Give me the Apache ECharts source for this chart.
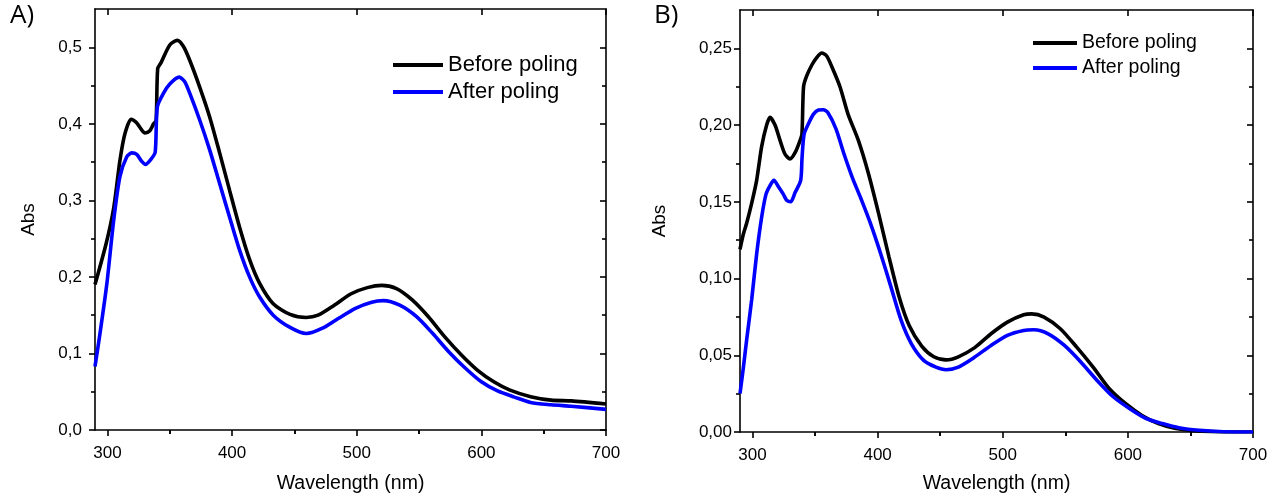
<!DOCTYPE html>
<html><head><meta charset="utf-8">
<script src="https://cdn.jsdelivr.net/npm/echarts@6/dist/echarts.min.js"></script>
<style>html,body{margin:0;padding:0;background:#fff}#c{width:1276px;height:499px}</style>
</head><body><div id="c"></div>
<script>
// ---- tick values ----
const xTicksMajor = [300, 400, 500, 600, 700];
const xTicksMinor = [350, 450, 550, 650];
const yTicksMajorA = [0, 0.1, 0.2, 0.3, 0.4, 0.5];
const yTicksMinorA = [0.05, 0.15, 0.25, 0.35, 0.45];
const yTicksMajorB = [0, 0.05, 0.1, 0.15, 0.2, 0.25];
const yTicksMinorB = [0.025, 0.075, 0.125, 0.175, 0.225];
const seriesNames = ['Before poling', 'After poling'];
const axisTitleX = 'Wavelength (nm)';
const axisTitleY = 'Abs';
const panelLabels = ['A)', 'B)'];

// ---- Panel A data ----
const wlA_before = [290, 299, 305, 310, 314, 319, 323, 327, 330, 334, 337, 339, 340.3, 343, 350, 356, 361, 366, 374, 382, 390, 398, 406, 414, 422, 433, 446.5, 459.5, 469, 482, 495.5, 508.5, 520, 531.5, 544.5, 557.5, 570.5, 584, 597, 610, 623, 639.5, 656, 672, 700];
const absA_before = [0.19, 0.244, 0.29, 0.352, 0.387, 0.406, 0.402, 0.393, 0.388, 0.391, 0.40, 0.404, 0.472, 0.48, 0.503, 0.509, 0.501, 0.483, 0.448, 0.409, 0.362, 0.313, 0.265, 0.223, 0.192, 0.165, 0.151, 0.147, 0.150, 0.163, 0.178, 0.186, 0.189, 0.185, 0.170, 0.148, 0.122, 0.098, 0.078, 0.063, 0.052, 0.0435, 0.039, 0.038, 0.034];
const wlA_after = [290, 294, 299.5, 305, 310, 315.5, 319.5, 323.5, 327.5, 330.5, 335, 338.3, 340, 345, 350, 357.5, 362, 366, 374, 382, 390, 398, 406, 414, 422, 433, 446.5, 459.5, 472.5, 485.5, 499, 512, 521.5, 534.5, 548, 561, 574, 587, 600, 613, 626.5, 639.5, 656, 672, 700];
const absA_after = [0.083, 0.126, 0.191, 0.274, 0.331, 0.357, 0.362, 0.36, 0.351, 0.347, 0.354, 0.363, 0.422, 0.44, 0.452, 0.461, 0.455, 0.44, 0.405, 0.366, 0.322, 0.278, 0.235, 0.2, 0.174, 0.150, 0.134, 0.126, 0.133, 0.146, 0.159, 0.167, 0.169, 0.163, 0.148, 0.126, 0.102, 0.081, 0.063, 0.051, 0.043, 0.036, 0.033, 0.031, 0.027];

// ---- Panel B data ----
const wlB_before = [290, 292.7, 295.3, 299.3, 303.3, 307.3, 311.3, 314, 318, 322, 326, 330, 334, 338, 339.5, 340.8, 343.3, 347.3, 351.3, 355.3, 359.3, 363.4, 369.9, 376.4, 384.6, 392.8, 400.9, 409.1, 417.2, 425.4, 435.2, 444.9, 454.7, 464.5, 477.6, 490.6, 503.7, 516.7, 523.2, 533, 546, 559.1, 572.2, 585.2, 598.3, 611.3, 624.4, 637.4, 650.5, 670, 700];
const absB_before = [0.119, 0.129, 0.136, 0.149, 0.164, 0.186, 0.200, 0.205, 0.200, 0.190, 0.181, 0.178, 0.182, 0.190, 0.194, 0.225, 0.232, 0.239, 0.244, 0.247, 0.245, 0.238, 0.225, 0.207, 0.19, 0.168, 0.142, 0.114, 0.088, 0.069, 0.056, 0.049, 0.047, 0.049, 0.055, 0.064, 0.0716, 0.0764, 0.077, 0.0749, 0.0673, 0.0553, 0.0423, 0.0282, 0.0184, 0.0108, 0.0055, 0.0025, 0.001, 0.0002, 0];
const wlB_after = [290, 292.7, 295.3, 299.3, 303.3, 307.3, 310.8, 314, 317.1, 320.6, 324.6, 327.3, 330.5, 334, 338.5, 339.6, 341.2, 344.6, 348.6, 352.7, 356.6, 360.3, 366.7, 373.2, 379.7, 386.2, 394.4, 402.5, 410.7, 418.8, 427, 436.8, 446.6, 454.7, 464.5, 477.6, 490.6, 503.7, 516.7, 524.9, 536.3, 549.3, 562.4, 575.4, 588.5, 601.5, 614.6, 627.6, 640.7, 657, 676.5, 700];
const absB_after = [0.025, 0.042, 0.060, 0.086, 0.116, 0.140, 0.155, 0.1606, 0.164, 0.160, 0.155, 0.151, 0.150, 0.156, 0.164, 0.179, 0.194, 0.2007, 0.207, 0.2098, 0.210, 0.208, 0.1975, 0.181, 0.166, 0.153, 0.1356, 0.116, 0.0944, 0.0727, 0.0575, 0.0467, 0.0423, 0.0406, 0.0423, 0.0488, 0.0564, 0.063, 0.0662, 0.0666, 0.064, 0.0564, 0.0456, 0.0336, 0.0228, 0.0152, 0.0088, 0.0055, 0.0028, 0.0011, 0.0002, 0];

const FONT = '"Liberation Sans", Arial, sans-serif';
const BLACK = '#000000', BLUE = '#0000ff';
const pairs = (xs, ys) => xs.map((x, i) => [x, ys[i]]);

function axisSet(kind, gi, min, max, major, minor, opts) {
  const isX = kind === 'x';
  const pos = isX ? ['bottom', 'top'] : ['left', 'right'];
  const base = {
    type: 'value', gridIndex: gi, min: min, max: max,
    splitLine: { show: false },
    axisLine: { show: true, onZero: false, lineStyle: { color: '#000', width: 1.6 } }
  };
  const tick = (vals, len, inside) => ({ show: true, customValues: vals, length: len, inside: inside, lineStyle: { color: '#000', width: 1.6 } });
  return [
    Object.assign({}, base, {
      position: pos[0],
      axisTick: tick(major, 6, false),
      axisLabel: { show: true, customValues: major, formatter: opts.fmt, margin: opts.margin,
        fontSize: 17, color: '#000', fontFamily: FONT },
      name: opts.name, nameLocation: 'middle', nameGap: opts.nameGap,
      nameTextStyle: { fontSize: isX ? 19.5 : 19, color: '#000', fontFamily: FONT }
    }),
    Object.assign({}, base, { position: pos[0], axisLine: { show: false },
      axisTick: tick(minor, 4, false), axisLabel: { show: false } }),
    Object.assign({}, base, { position: pos[1],
      axisTick: tick(major, 6, true), axisLabel: { show: false } }),
    Object.assign({}, base, { position: pos[1], axisLine: { show: false },
      axisTick: tick(minor, 4, true), axisLabel: { show: false } })
  ];
}

const fmtX = v => String(Math.round(v));
const fmtA = v => v.toFixed(1).replace('.', ',');
const fmtB = v => v.toFixed(2).replace('.', ',');

const lineSeries = (name, color, xi, yi, data) => ({
  type: 'line', name: name, xAxisIndex: xi, yAxisIndex: yi, data: data,
  showSymbol: false, smooth: 0.25, clip: true,
  lineStyle: { color: color, width: 3.6 }, itemStyle: { color: color }
});

const chart = echarts.init(document.getElementById('c'), null, { renderer: 'canvas' });
chart.setOption({
  animation: false,
  backgroundColor: '#fff',
  title: [
    { text: panelLabels[0], left: 10, top: 3, padding: 0, textStyle: { fontFamily: '"Open Sans", sans-serif', fontSize: 26, fontWeight: 'normal', color: '#000' } },
    { text: panelLabels[1], left: 654, top: 3, padding: 0, textStyle: { fontFamily: '"Open Sans", sans-serif', fontSize: 26, fontWeight: 'normal', color: '#000' } }
  ],
  legend: [
    { data: seriesNames, orient: 'vertical', left: 393, top: 53, padding: 0, itemGap: 3,
      itemWidth: 50, itemHeight: 4, icon: 'rect', selectedMode: false,
      textStyle: { fontSize: 22, lineHeight: 24, color: '#000', fontFamily: FONT } },
    { data: seriesNames, orient: 'vertical', left: 1033, top: 32, padding: 0, itemGap: 3,
      itemWidth: 44, itemHeight: 4, icon: 'rect', selectedMode: false,
      textStyle: { fontSize: 19.5, lineHeight: 22, color: '#000', fontFamily: FONT } }
  ],
  grid: [
    { left: 95, top: 9, width: 511, height: 421 },
    { left: 740, top: 10, width: 513, height: 422 }
  ],
  xAxis: [].concat(
    axisSet('x', 0, 290, 700, xTicksMajor, xTicksMinor, { fmt: fmtX, margin: 15, name: axisTitleX, nameGap: 44 }),
    axisSet('x', 1, 290, 700, xTicksMajor, xTicksMinor, { fmt: fmtX, margin: 15, name: axisTitleX, nameGap: 42 })
  ),
  yAxis: [].concat(
    axisSet('y', 0, 0, 0.55, yTicksMajorA, yTicksMinorA, { fmt: fmtA, margin: 13, name: axisTitleY, nameGap: 57 }),
    axisSet('y', 1, 0, 0.275, yTicksMajorB, yTicksMinorB, { fmt: fmtB, margin: 8, name: axisTitleY, nameGap: 71 })
  ),
  series: [
    lineSeries(seriesNames[0], BLACK, 0, 0, pairs(wlA_before, absA_before)),
    lineSeries(seriesNames[1], BLUE, 0, 0, pairs(wlA_after, absA_after)),
    lineSeries(seriesNames[0], BLACK, 4, 4, pairs(wlB_before, absB_before)),
    lineSeries(seriesNames[1], BLUE, 4, 4, pairs(wlB_after, absB_after))
  ]
});
</script>
</body></html>
